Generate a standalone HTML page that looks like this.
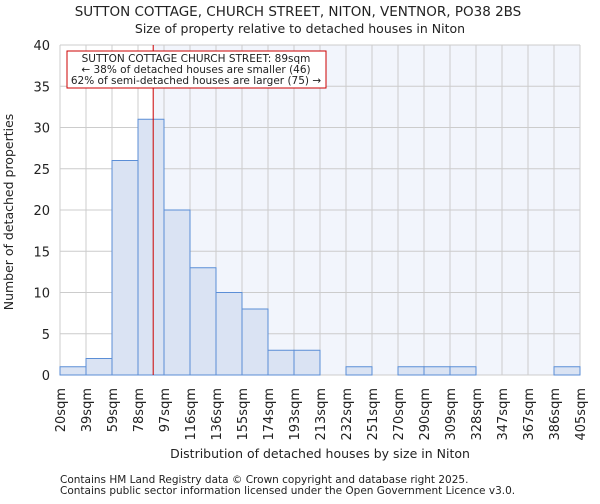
<!DOCTYPE html>
<html><head><meta charset="utf-8"><style>
body{margin:0;background:#fff;font-family:"DejaVu Sans","Liberation Sans",sans-serif}
svg text{font-family:"DejaVu Sans","Liberation Sans",sans-serif;fill:#222}
</style></head><body>
<svg id="chart" width="600" height="500" xmlns="http://www.w3.org/2000/svg">
<text x="298" y="16" text-anchor="middle" font-size="13.5">SUTTON COTTAGE, CHURCH STREET, NITON, VENTNOR, PO38 2BS</text>
<text x="300" y="33" text-anchor="middle" font-size="12.5">Size of property relative to detached houses in Niton</text>
<g id="plot"></g>
<text x="320" y="458" text-anchor="middle" font-size="12.5">Distribution of detached houses by size in Niton</text>
<text transform="translate(13,212) rotate(-90)" text-anchor="middle" font-size="12.5">Number of detached properties</text>
<text x="60" y="483" font-size="10.5">Contains HM Land Registry data © Crown copyright and database right 2025.</text>
<text x="60" y="494" font-size="10.5">Contains public sector information licensed under the Open Government Licence v3.0.</text>
</svg>
<script>
const binLabels=["20sqm","39sqm","59sqm","78sqm","97sqm","116sqm","136sqm","155sqm","174sqm","193sqm","213sqm","232sqm","251sqm","270sqm","290sqm","309sqm","328sqm","347sqm","367sqm","386sqm","405sqm"];
const binEdges=[20,39.25,58.5,77.75,97,116.25,135.5,154.75,174,193.25,212.5,231.75,251,270.25,289.5,308.75,328,347.25,366.5,385.75,405];
const counts=[1,2,26,31,20,13,10,8,3,3,0,1,0,1,1,1,0,0,0,1];
const yTicks=[0,5,10,15,20,25,30,35,40];
const markerValue=89;
const annotationLines=["SUTTON COTTAGE CHURCH STREET: 89sqm","← 38% of detached houses are smaller (46)","62% of semi-detached houses are larger (75) →"];
const X0=60,X1=580,Y0=375,Y1=45;
const xs=v=>X0+(v-binEdges[0])/(binEdges[binEdges.length-1]-binEdges[0])*(X1-X0);
const ys=v=>Y0-v/40*(Y0-Y1);
const g=document.getElementById('plot');const NS="http://www.w3.org/2000/svg";
function mk(t,a){const e=document.createElementNS(NS,t);for(const k in a)e.setAttribute(k,a[k]);g.appendChild(e);return e;}
const mx=xs(markerValue);
let e=mk('rect',{x:X0,y:Y1,width:mx-X0,height:Y0-Y1,fill:'#ffffff'});


e=mk('rect',{x:mx,y:Y1,width:X1-mx,height:Y0-Y1,fill:'#f2f5fc'});


binEdges.forEach((b,i)=>{const l=mk('line',{x1:xs(b),x2:xs(b),y1:Y1,y2:Y0,stroke:'#cccccc','stroke-width':1});


const t=mk('text',{transform:`translate(${xs(b)+5},${Y0+13}) rotate(-90)`,'text-anchor':'end','font-size':13});t.textContent=binLabels[i];

});
yTicks.forEach(v=>{const l=mk('line',{x1:X0,x2:X1,y1:ys(v),y2:ys(v),stroke:'#cccccc','stroke-width':1});


const t=mk('text',{x:X0-10,y:ys(v)+5,'text-anchor':'end','font-size':13});t.textContent=v;

});
counts.forEach((c,i)=>{if(c<=0)return;const r=mk('rect',{x:xs(binEdges[i]),y:ys(c),width:xs(binEdges[i+1])-xs(binEdges[i]),height:ys(0)-ys(c),fill:'#dae3f3',stroke:'#5b8ed6','stroke-width':1});

});
e=mk('line',{x1:mx,x2:mx,y1:Y1,y2:Y0,stroke:'#cc0000','stroke-width':1});


e=mk('rect',{x:67,y:51,width:259,height:37,fill:'#fff',stroke:'#cc0000','stroke-width':1});


annotationLines.forEach((s,i)=>{const t=mk('text',{x:196,y:62+i*11,'text-anchor':'middle','font-size':10.5});t.textContent=s;

});
</script>
</body></html>
